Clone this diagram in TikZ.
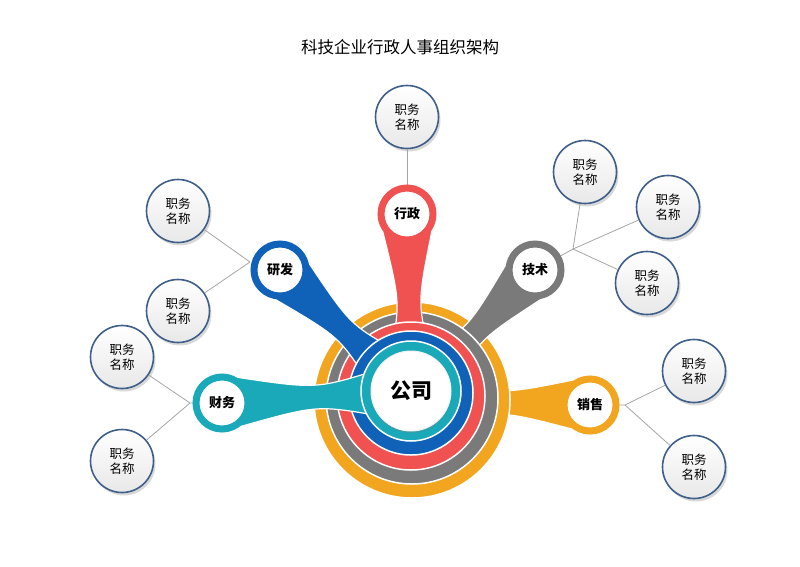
\documentclass[tikz,border=0pt]{standalone}
\usepackage{fontspec}
\setmainfont{Noto Sans CJK SC}
\usetikzlibrary{calc,shadows}
\definecolor{corg}{HTML}{F2A51E}
\definecolor{cgry}{HTML}{7A7A7A}
\definecolor{cred}{HTML}{F05252}
\definecolor{cblu}{HTML}{0F62B8}
\definecolor{ctea}{HTML}{19A9B9}
\definecolor{cjob}{HTML}{3F5F8A}
\newcommand{\mystem}[5]{%
  \fill[#5,draw=white,line width=1.2pt] ($(#1)!#3pt!55:(#2)$) .. controls ($($(#1)!0.5!(#2)$)!#4pt!90:(#2)$) .. ($(#2)!40pt!-35:(#1)$) -- (#2) -- ($(#2)!40pt!35:(#1)$) .. controls ($($(#1)!0.5!(#2)$)!#4pt!-90:(#2)$) .. ($(#1)!#3pt!-55:(#2)$) -- (#1) -- cycle;}
\tikzset{
  job/.style={circle,minimum size=63pt,inner sep=0pt,draw=cjob,line width=1.6pt,
    top color=white,bottom color=gray!18,align=center,font=\fontsize{12.5}{15}\selectfont,
    drop shadow={shadow xshift=2pt,shadow yshift=-3pt,opacity=0.3}},
  dept/.style={circle,minimum size=52pt,inner sep=0pt,fill=white,draw=#1,line width=7pt,font=\bfseries\fontsize{13}{15}\selectfont},
  disc/.style={fill=#1,draw=white,line width=1.5pt},
  lnk/.style={draw=gray!70,line width=0.8pt}
}
\begin{document}
\begin{tikzpicture}[x=1pt,y=-1pt]
\useasboundingbox (0,0) rectangle (800,566);
\node (title) at (400,47) {\fontsize{16.5}{18}\selectfont 科技企业行政人事组织架构};
% centres
\coordinate (cO) at (412,400);
\coordinate (cG) at (412,398);
\coordinate (cR) at (411,396);
\coordinate (cB) at (411,393);
\coordinate (cT) at (411,391);
\coordinate (dXZ) at (407,214);
\coordinate (dJS) at (535,270);
\coordinate (dYF) at (280,270);
\coordinate (dCW) at (222,403);
\coordinate (dXS) at (590,405);
% job nodes
\node[job] (j1) at (407,117) {职务\\名称};
\node[job] (j2) at (585,172) {职务\\名称};
\node[job] (j3) at (668,207) {职务\\名称};
\node[job] (j4) at (647,283) {职务\\名称};
\node[job] (j5) at (178,211) {职务\\名称};
\node[job] (j6) at (178,311) {职务\\名称};
\node[job] (j7) at (122,357) {职务\\名称};
\node[job] (j8) at (122,461) {职务\\名称};
\node[job] (j9) at (694,371) {职务\\名称};
\node[job] (j10) at (694,467) {职务\\名称};
\coordinate (kJS) at (573,249);
\coordinate (kCW) at (190,403);
\coordinate (kXS) at (625,405);
\coordinate (kYF) at (250,262);
\path[lnk] (j1) -- (dXZ);
\path[lnk] (j2) -- (kJS) (j3) -- (kJS) (j4) -- (kJS) (kJS) -- (dJS);
\path[lnk] (j5) -- (kYF) (j6) -- (kYF);
\path[lnk] (j7) -- (kCW) (j8) -- (kCW) (kCW) -- (dCW);
\path[lnk] (j9) -- (kXS) (j10) -- (kXS) (kXS) -- (dXS);
% layers
\mystem{dXS}{cO}{30}{8}{corg}
\fill[disc=corg] (cO) circle (98);
\mystem{dJS}{cG}{30}{8}{cgry}
\fill[disc=cgry] (cG) circle (86);
\mystem{dXZ}{cR}{30}{8}{cred}
\fill[disc=cred] (cR) circle (74);
\mystem{dYF}{cB}{30}{8}{cblu}
\fill[disc=cblu] (cB) circle (62);
\mystem{dCW}{cT}{30}{8}{ctea}
\fill[disc=ctea] (cT) circle (50);
\node[circle,minimum size=80pt,inner sep=0pt,fill=white,draw=white!90!gray,line width=1pt,
  drop shadow={shadow xshift=0pt,shadow yshift=-2pt,opacity=0.3},font=\bfseries\fontsize{21}{24}\selectfont] (gs) at (411,391) {公司};
\node[dept=cred] (xz) at (dXZ) {行政};
\node[dept=cgry] (js) at (dJS) {技术};
\node[dept=cblu] (yf) at (dYF) {研发};
\node[dept=ctea] (cw) at (dCW) {财务};
\node[dept=corg] (xs) at (dXS) {销售};
\end{tikzpicture}
\end{document}
